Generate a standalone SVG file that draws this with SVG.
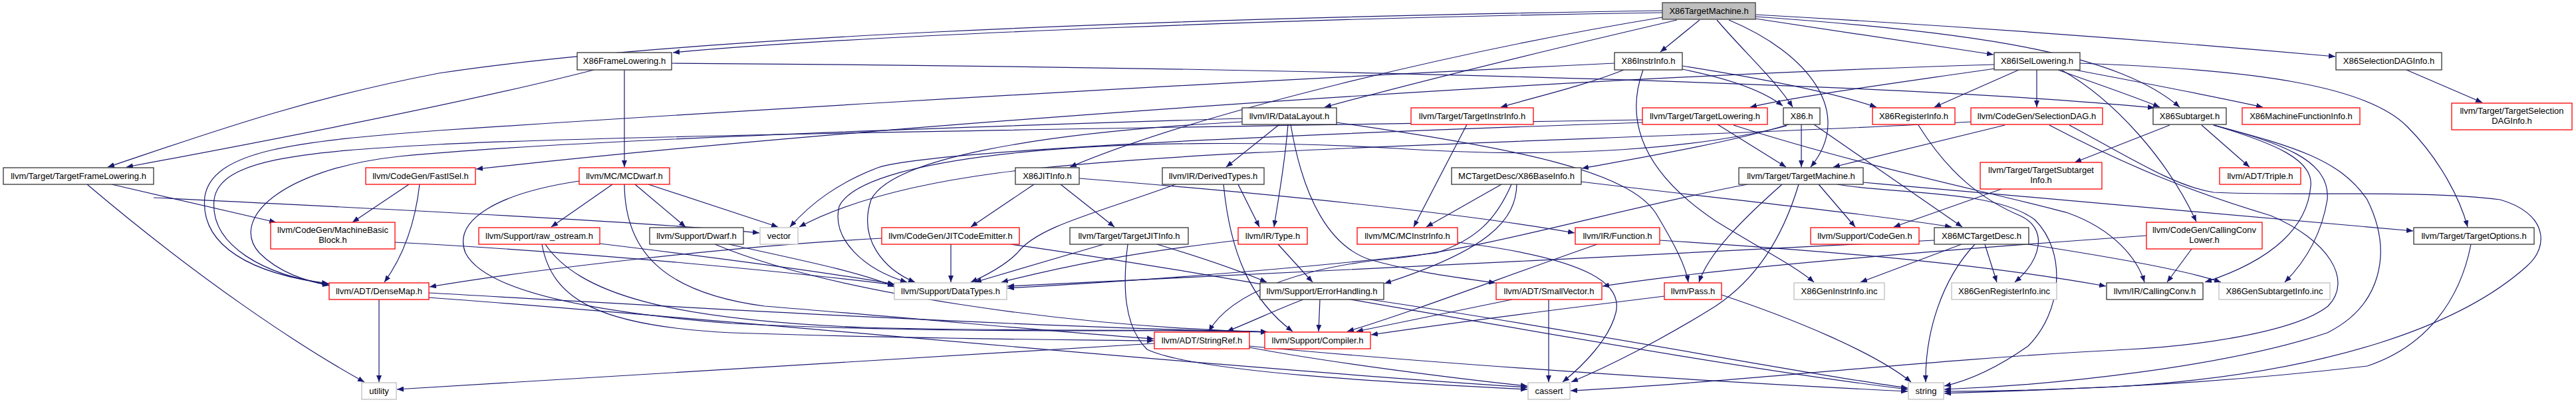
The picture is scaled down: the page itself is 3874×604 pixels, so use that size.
<svg xmlns="http://www.w3.org/2000/svg" width="3874" height="604" viewBox="0 0 3874 604">
<defs>
<marker id="ah" markerWidth="10" markerHeight="8" refX="10" refY="4" orient="auto" markerUnits="userSpaceOnUse">
<path d="M0,0 L10,4 L0,8 z" fill="#191970"/>
</marker>
<style>
.e path{fill:none;stroke:#191970;stroke-width:1.2;marker-end:url(#ah)}
rect{fill:#fff;stroke-width:1.3}
.k rect{stroke:#333}
.r rect{stroke:#ff0000}
.g rect{stroke:#bfbfbf}
.root rect{fill:#bfbfbf;stroke:#404040}
text{font-family:"Liberation Sans",Arial,Helvetica,sans-serif;font-size:13px;fill:#000;text-anchor:middle}
</style>
</defs>
<rect x="0" y="0" width="3874" height="604" style="fill:#fff;stroke:none"/>
<g class="e" id="edges">
<path d="M2500,19 C2000,26 1300,52 1012,79"/>
<path d="M2500,16 C1700,28 1000,58 660,110 C450,150 300,205 162,251"/>
<path d="M2522,30 C2350,70 2150,118 1992,161"/>
<path d="M2500,26 C2200,75 1800,170 1609,251"/>
<path d="M2556,30 L2497,78"/>
<path d="M2582,30 C2620,75 2670,120 2696,161"/>
<path d="M2600,30 C2720,80 2790,170 2723,251"/>
<path d="M2640,28 L2998,82"/>
<path d="M2640,22 C3000,42 3300,66 3512,85"/>
<path d="M2640,25 C3000,50 3190,85 3278,161"/>
<path d="M939,105 L939,251"/>
<path d="M893,105 C700,155 400,212 190,251"/>
<path d="M1010,95 C1800,100 2800,120 3240,162"/>
<path d="M2442,105 C2380,130 2300,148 2257,161"/>
<path d="M2530,104 C2600,118 2650,135 2681,159"/>
<path d="M2530,99 C2650,118 2760,140 2822,161"/>
<path d="M2428,95 C1600,135 900,180 660,196 C450,212 320,225 308,295 C300,370 380,412 494,426"/>
<path d="M2471,105 C2440,190 2480,265 2580,332 C2650,375 2700,400 2728,424"/>
<path d="M2999,97 C2300,118 1300,190 716,254"/>
<path d="M3000,103 C2850,125 2700,145 2632,161"/>
<path d="M3036,105 L2909,161"/>
<path d="M3063,105 L3063,161"/>
<path d="M3095,105 C3150,125 3210,145 3248,161"/>
<path d="M3115,104 C3200,120 3330,145 3403,161"/>
<path d="M3100,105 C3180,150 3260,240 3303,333"/>
<path d="M3128,95 C3400,105 3560,130 3620,190 C3670,240 3700,300 3711,341"/>
<path d="M3619,105 L3733,154"/>
<path d="M1924,187 L1844,251"/>
<path d="M1937,187 C1932,250 1922,300 1916,341"/>
<path d="M1941,187 C1960,300 2000,370 2060,390 C2130,410 2200,418 2249,425"/>
<path d="M2010,184 C2300,225 2450,260 2490,320 C2520,370 2535,400 2539,424"/>
<path d="M1868,178 C1300,195 800,215 600,235 C420,255 345,330 390,380 C420,410 460,422 495,429"/>
<path d="M1868,183 C1550,200 1340,240 1310,300 C1290,360 1330,405 1376,424"/>
<path d="M2206,187 L2126,341"/>
<path d="M2583,187 L2686,251"/>
<path d="M2470,180 C1500,195 900,205 660,217 C450,228 330,240 322,300 C315,370 400,414 495,427"/>
<path d="M2607,188 C2800,250 3000,290 3110,320 C3180,345 3215,390 3225,424"/>
<path d="M2470,184 C2000,200 1400,225 1320,252 C1260,275 1220,305 1188,341"/>
<path d="M2709,187 L2709,251"/>
<path d="M2728,187 L2951,341"/>
<path d="M2690,187 C2600,215 2450,240 2379,253"/>
<path d="M2687,189 C2560,222 2352,240 2100,223 C1700,200 1300,230 1262,310 C1250,360 1300,405 1364,424"/>
<path d="M2885,188 C2930,260 2980,300 3040,325 C3080,345 3070,390 3030,424"/>
<path d="M3015,188 L2757,251"/>
<path d="M2964,183 C2500,210 1800,220 1500,260 C1350,280 1260,310 1202,341"/>
<path d="M3082,188 C3200,250 3300,290 3415,324 C3500,360 3540,420 3501,460 C3450,500 3300,520 3200,525 C2900,540 2600,575 2362,587"/>
<path d="M3112,188 C3200,235 3270,280 3329,289 C3450,295 3650,285 3760,300 C3830,320 3835,370 3800,400 C3700,490 3500,560 3200,580 C3100,585 3000,588 2924,588"/>
<path d="M3263,188 L3120,244"/>
<path d="M3311,188 L3383,251"/>
<path d="M3329,188 C3420,215 3480,240 3475,280 C3470,340 3420,390 3316,424"/>
<path d="M3329,188 C3430,215 3505,240 3500,300 C3490,360 3460,400 3436,424"/>
<path d="M3329,188 C3450,220 3520,240 3560,300 C3600,380 3580,460 3500,500 C3350,550 3100,578 2924,585"/>
<path d="M168,277 L415,334"/>
<path d="M131,277 C300,420 450,520 548,574"/>
<path d="M231,297 C600,315 1000,335 1142,350"/>
<path d="M615,277 L530,334"/>
<path d="M631,277 C625,330 610,380 578,424"/>
<path d="M921,277 L829,341"/>
<path d="M955,277 L1031,341"/>
<path d="M975,277 L1170,341"/>
<path d="M939,277 C940,380 1000,440 1150,460 C1400,480 1600,500 1735,509"/>
<path d="M871,272 C750,290 680,330 700,380 C730,440 900,470 1100,486 C1500,505 1800,492 1906,499"/>
<path d="M902,366 C1100,390 1250,410 1345,427"/>
<path d="M815,367 C830,450 900,490 1100,500 C1400,510 1600,510 1735,512"/>
<path d="M820,367 C870,440 1000,480 1300,492 C1600,500 1800,493 1906,499"/>
<path d="M1096,367 C1200,390 1300,410 1345,431"/>
<path d="M1075,367 C1250,440 1600,490 1906,499"/>
<path d="M1430,367 L1430,424"/>
<path d="M1326,358 C1100,370 800,405 646,431"/>
<path d="M1520,367 C1900,420 2500,540 2869,585"/>
<path d="M1660,367 L1466,424"/>
<path d="M1740,367 C1800,385 1860,405 1905,424"/>
<path d="M1696,367 C1688,430 1690,490 1725,525 C1800,560 2100,575 2297,585"/>
<path d="M1862,361 C1700,380 1600,400 1506,424"/>
<path d="M1922,367 L1974,424"/>
<path d="M1862,277 L1894,341"/>
<path d="M1768,277 C1650,320 1560,340 1530,380 C1510,400 1480,415 1460,424"/>
<path d="M1840,277 C1850,380 1880,450 1944,498"/>
<path d="M2258,277 L2145,341"/>
<path d="M2273,277 C2250,330 2220,360 2160,380 C1900,410 1650,425 1515,433"/>
<path d="M2281,277 C2280,330 2240,375 2082,426"/>
<path d="M2378,273 C2600,300 2800,320 2935,341"/>
<path d="M2628,277 C2450,310 2250,370 2100,388 C1960,400 1850,440 1818,498"/>
<path d="M2680,277 C2620,330 2570,380 2555,424"/>
<path d="M2705,277 C2680,360 2640,420 2580,460 C2500,510 2420,550 2363,574"/>
<path d="M2735,277 L2790,341"/>
<path d="M2802,274 C3100,300 3400,325 3629,347"/>
<path d="M2763,277 C2850,292 3000,285 3060,330 C3110,380 3100,470 3050,520 C3000,555 2960,572 2924,580"/>
<path d="M3010,284 L2848,341"/>
<path d="M594,364 C900,380 1200,410 1345,428"/>
<path d="M2950,367 L2798,424"/>
<path d="M2985,367 L3003,424"/>
<path d="M2970,367 C2920,420 2895,500 2896,574"/>
<path d="M3050,367 C3200,390 3300,410 3340,424"/>
<path d="M2909,361 C2500,380 1800,420 1515,430"/>
<path d="M3296,374 L3259,424"/>
<path d="M3228,354 C3000,370 2600,400 2410,430"/>
<path d="M2402,367 C2250,420 2120,470 2026,498"/>
<path d="M2496,361 C2800,380 3000,400 3167,430"/>
<path d="M3716,367 C3700,450 3650,520 3560,550 C3300,580 3100,585 2924,591"/>
<path d="M2192,364 C2400,390 2440,430 2430,470 C2420,510 2380,550 2350,574"/>
<path d="M570,450 L570,574"/>
<path d="M645,440 C1000,460 1500,490 1906,499"/>
<path d="M645,447 C1100,480 1800,550 2297,582"/>
<path d="M1985,450 L1983,498"/>
<path d="M1960,450 C1920,465 1890,480 1845,498"/>
<path d="M2060,450 C2400,500 2700,560 2869,583"/>
<path d="M2274,450 L2040,498"/>
<path d="M2329,450 L2329,574"/>
<path d="M2503,445 C2300,470 2150,490 2062,503"/>
<path d="M2589,443 C2700,480 2820,530 2874,574"/>
<path d="M1736,516 C1300,540 900,570 597,585"/>
<path d="M1879,522 C2000,545 2200,570 2297,580"/>
<path d="M1879,520 C2200,550 2600,575 2869,588"/>
<path d="M1555,277 L1460,341"/>
<path d="M1595,277 L1676,341"/>
<path d="M1623,268 C1900,290 2200,320 2368,350"/>
</g>
<g id="n_root" class="root"><rect x="2500" y="4" width="140" height="25"/><text x="2570" y="21">X86TargetMachine.h</text></g>
<g id="n_x86fl" class="k"><rect x="868" y="79" width="142" height="26"/><text x="939" y="96">X86FrameLowering.h</text></g>
<g id="n_x86ii" class="k"><rect x="2428" y="79" width="102" height="26"/><text x="2479" y="96">X86InstrInfo.h</text></g>
<g id="n_x86isel" class="k"><rect x="2999" y="79" width="129" height="26"/><text x="3063.5" y="96">X86ISelLowering.h</text></g>
<g id="n_x86sdi" class="k"><rect x="3513" y="79" width="159" height="26"/><text x="3592.5" y="96">X86SelectionDAGInfo.h</text></g>
<g id="n_dl" class="k"><rect x="1868" y="162" width="142" height="25"/><text x="1939" y="179">llvm/IR/DataLayout.h</text></g>
<g id="n_tii" class="r"><rect x="2122" y="162" width="184" height="25"/><text x="2214" y="179">llvm/Target/TargetInstrInfo.h</text></g>
<g id="n_tl" class="r"><rect x="2470" y="162" width="188" height="25"/><text x="2564" y="179">llvm/Target/TargetLowering.h</text></g>
<g id="n_x86h" class="k"><rect x="2682" y="162" width="55" height="25"/><text x="2709.5" y="179">X86.h</text></g>
<g id="n_x86ri" class="r"><rect x="2816" y="162" width="124" height="25"/><text x="2878" y="179">X86RegisterInfo.h</text></g>
<g id="n_sdag" class="r"><rect x="2964" y="162" width="198" height="25"/><text x="3063" y="179">llvm/CodeGen/SelectionDAG.h</text></g>
<g id="n_x86st" class="k"><rect x="3238" y="162" width="110" height="25"/><text x="3293" y="179">X86Subtarget.h</text></g>
<g id="n_x86mfi" class="r"><rect x="3372" y="162" width="177" height="25"/><text x="3460.5" y="179">X86MachineFunctionInfo.h</text></g>
<g id="n_tsdi" class="r"><rect x="3687" y="155" width="181" height="40"/><text x="3777.5" y="171">llvm/Target/TargetSelection</text><text x="3777.5" y="186">DAGInfo.h</text></g>
<g id="n_tfl" class="k"><rect x="5" y="252" width="226" height="25"/><text x="118" y="269">llvm/Target/TargetFrameLowering.h</text></g>
<g id="n_fisel" class="r"><rect x="550" y="252" width="165" height="25"/><text x="632.5" y="269">llvm/CodeGen/FastISel.h</text></g>
<g id="n_mcdwarf" class="r"><rect x="871" y="252" width="136" height="25"/><text x="939" y="269">llvm/MC/MCDwarf.h</text></g>
<g id="n_x86jit" class="k"><rect x="1527" y="252" width="96" height="25"/><text x="1575" y="269">X86JITInfo.h</text></g>
<g id="n_dt" class="k"><rect x="1748" y="252" width="153" height="25"/><text x="1824.5" y="269">llvm/IR/DerivedTypes.h</text></g>
<g id="n_bi" class="k"><rect x="2183" y="252" width="195" height="25"/><text x="2280.5" y="269">MCTargetDesc/X86BaseInfo.h</text></g>
<g id="n_tm" class="k"><rect x="2615" y="252" width="187" height="25"/><text x="2708.5" y="269">llvm/Target/TargetMachine.h</text></g>
<g id="n_tsi" class="r"><rect x="2978" y="244" width="183" height="40"/><text x="3069.5" y="260">llvm/Target/TargetSubtarget</text><text x="3069.5" y="275">Info.h</text></g>
<g id="n_triple" class="r"><rect x="3338" y="252" width="122" height="25"/><text x="3399" y="269">llvm/ADT/Triple.h</text></g>
<g id="n_mbb" class="r"><rect x="407" y="334" width="187" height="40"/><text x="500.5" y="350">llvm/CodeGen/MachineBasic</text><text x="500.5" y="365">Block.h</text></g>
<g id="n_ro" class="r"><rect x="720" y="342" width="182" height="25"/><text x="811" y="359">llvm/Support/raw_ostream.h</text></g>
<g id="n_dwarf" class="k"><rect x="977" y="342" width="141" height="25"/><text x="1047.5" y="359">llvm/Support/Dwarf.h</text></g>
<g id="n_vector" class="g"><rect x="1143" y="342" width="57" height="25"/><text x="1171.5" y="359">vector</text></g>
<g id="n_jce" class="r"><rect x="1326" y="342" width="207" height="25"/><text x="1429.5" y="359">llvm/CodeGen/JITCodeEmitter.h</text></g>
<g id="n_tji" class="k"><rect x="1609" y="342" width="178" height="25"/><text x="1698" y="359">llvm/Target/TargetJITInfo.h</text></g>
<g id="n_type" class="r"><rect x="1862" y="342" width="104" height="25"/><text x="1914" y="359">llvm/IR/Type.h</text></g>
<g id="n_mcii" class="r"><rect x="2041" y="342" width="151" height="25"/><text x="2116.5" y="359">llvm/MC/MCInstrInfo.h</text></g>
<g id="n_func" class="r"><rect x="2369" y="342" width="127" height="25"/><text x="2432.5" y="359">llvm/IR/Function.h</text></g>
<g id="n_cg" class="r"><rect x="2723" y="342" width="163" height="25"/><text x="2804.5" y="359">llvm/Support/CodeGen.h</text></g>
<g id="n_mctd" class="k"><rect x="2909" y="342" width="142" height="25"/><text x="2980" y="359">X86MCTargetDesc.h</text></g>
<g id="n_ccl" class="r"><rect x="3228" y="334" width="174" height="40"/><text x="3315" y="350">llvm/CodeGen/CallingConv</text><text x="3315" y="365">Lower.h</text></g>
<g id="n_to" class="k"><rect x="3630" y="342" width="181" height="25"/><text x="3720.5" y="359">llvm/Target/TargetOptions.h</text></g>
<g id="n_dm" class="r"><rect x="495" y="425" width="150" height="25"/><text x="570" y="442">llvm/ADT/DenseMap.h</text></g>
<g id="n_dtypes" class="g"><rect x="1345" y="425" width="169" height="25"/><text x="1429.5" y="442">llvm/Support/DataTypes.h</text></g>
<g id="n_eh" class="k"><rect x="1895" y="425" width="186" height="25"/><text x="1988" y="442">llvm/Support/ErrorHandling.h</text></g>
<g id="n_sv" class="r"><rect x="2250" y="425" width="159" height="25"/><text x="2329.5" y="442">llvm/ADT/SmallVector.h</text></g>
<g id="n_pass" class="r"><rect x="2503" y="425" width="86" height="25"/><text x="2546" y="442">llvm/Pass.h</text></g>
<g id="n_geninstr" class="g"><rect x="2698" y="425" width="136" height="25"/><text x="2766" y="442">X86GenInstrInfo.inc</text></g>
<g id="n_genreg" class="g"><rect x="2935" y="425" width="158" height="25"/><text x="3014" y="442">X86GenRegisterInfo.inc</text></g>
<g id="n_cc" class="k"><rect x="3168" y="425" width="145" height="25"/><text x="3240.5" y="442">llvm/IR/CallingConv.h</text></g>
<g id="n_gensub" class="g"><rect x="3337" y="425" width="167" height="25"/><text x="3420.5" y="442">X86GenSubtargetInfo.inc</text></g>
<g id="n_sr" class="r"><rect x="1736" y="499" width="143" height="25"/><text x="1807.5" y="516">llvm/ADT/StringRef.h</text></g>
<g id="n_comp" class="r"><rect x="1902" y="499" width="159" height="25"/><text x="1981.5" y="516">llvm/Support/Compiler.h</text></g>
<g id="n_util" class="g"><rect x="544" y="575" width="52" height="25"/><text x="570" y="592">utility</text></g>
<g id="n_cassert" class="g"><rect x="2298" y="575" width="63" height="25"/><text x="2329.5" y="592">cassert</text></g>
<g id="n_string" class="g"><rect x="2870" y="575" width="53" height="25"/><text x="2896.5" y="592">string</text></g>
</svg>
